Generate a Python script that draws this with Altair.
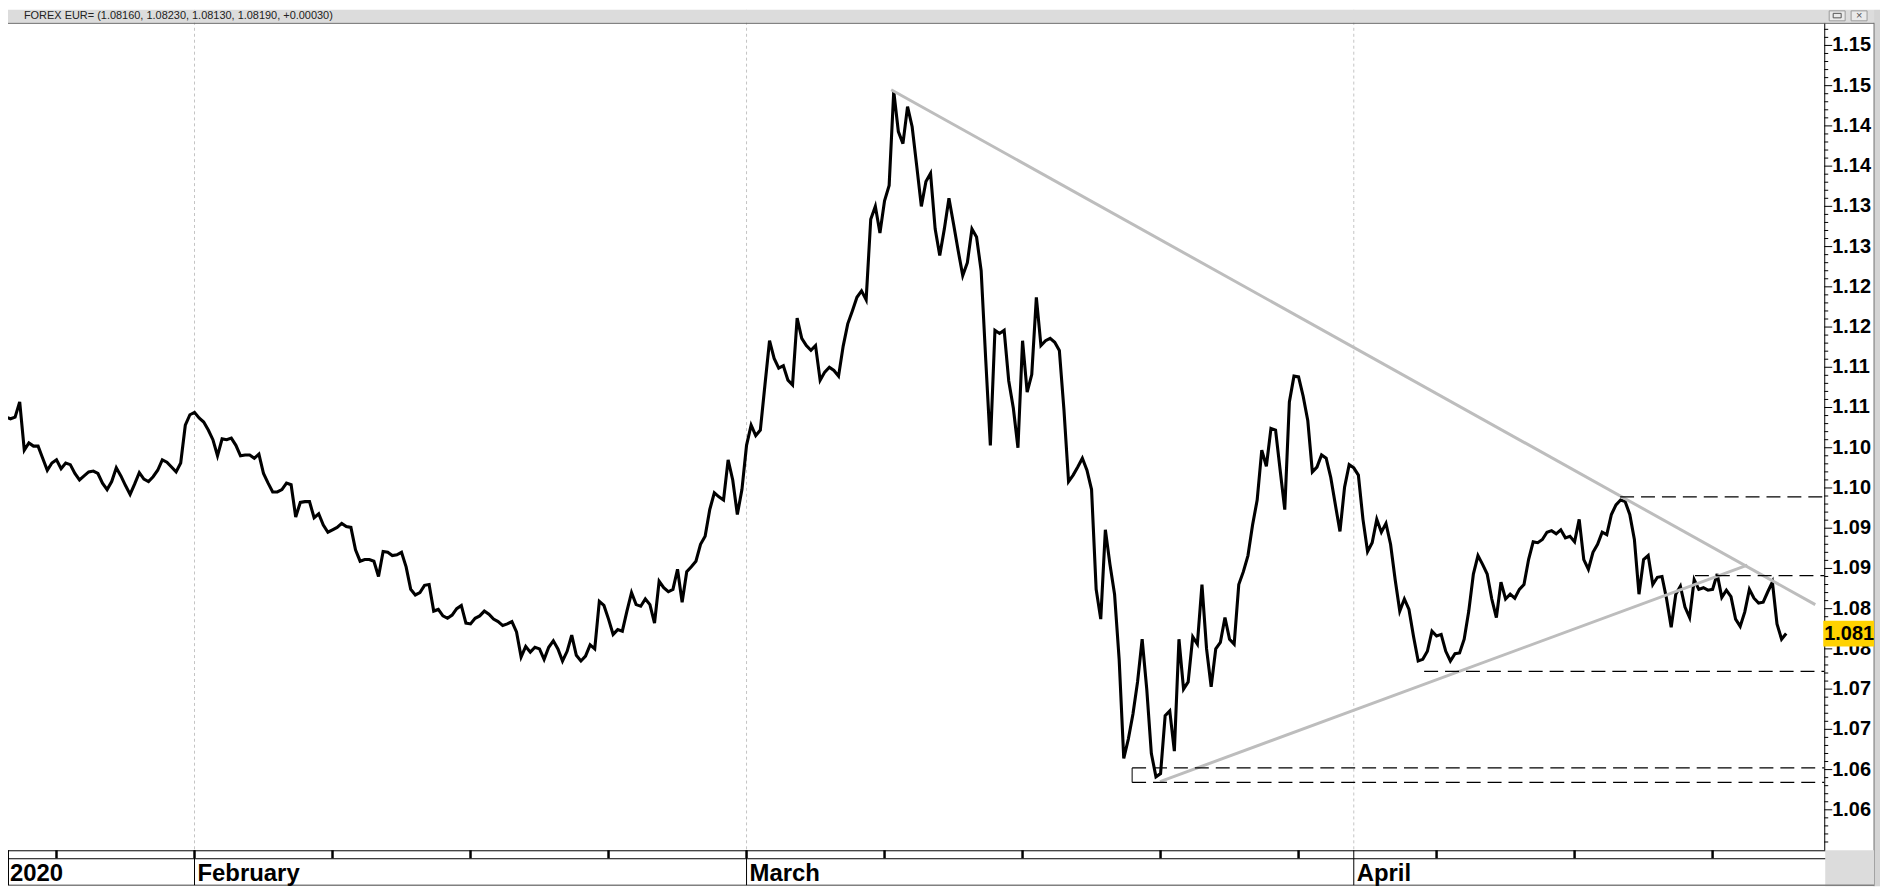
import altair as alt
import pandas as pd
import math

# ---------------- data ----------------
header_text = "FOREX EUR= (1.08160, 1.08230, 1.08130, 1.08190, +0.00030)"

# x is a trading-day index: 0 = Mon 3 Feb 2020, weekends removed; 6 bars (4h) per day
BARS_PER_DAY = 6
week_starts = [-7, -5, 0, 5, 10, 15, 20, 25, 30, 35, 40, 45, 50, 55]

jan23 = [1.1094, 1.1088, 1.1086, 1.1088, 1.1107, 1.1047, 1.1056, 1.1052, 1.1052, 1.1037, 1.1022, 1.1031]
jan27 = [1.1035, 1.1024, 1.1031, 1.1029, 1.1018, 1.1010, 1.1015, 1.1020, 1.1021, 1.1018,
         1.1006, 1.0998, 1.1008, 1.1025, 1.1015, 1.1003, 1.0992, 1.1005, 1.1019, 1.1011,
         1.1008, 1.1014, 1.1022, 1.1035, 1.1032, 1.1026, 1.1020, 1.1031, 1.1078, 1.1091]
feb03 = [1.1094, 1.1087, 1.1082, 1.1072, 1.1060, 1.1040, 1.1061, 1.1060, 1.1062, 1.1053,
         1.1040, 1.1041, 1.1041, 1.1037, 1.1042, 1.1018, 1.1006, 1.0995, 1.0995, 1.0998,
         1.1006, 1.1004, 1.0964, 1.0982, 1.0983, 1.0983, 1.0963, 1.0968, 1.0954, 1.0945]
feb10 = [1.0948, 1.0951, 1.0956, 1.0952, 1.0951, 1.0923, 1.0909, 1.0911, 1.0911, 1.0909,
         1.0890, 1.0921, 1.0920, 1.0916, 1.0917, 1.0920, 1.0902, 1.0874, 1.0867, 1.0870,
         1.0879, 1.0880, 1.0847, 1.0849, 1.0841, 1.0838, 1.0842, 1.0850, 1.0854, 1.0832]
feb17 = [1.0831, 1.0838, 1.0841, 1.0847, 1.0843, 1.0837, 1.0834, 1.0829, 1.0831, 1.0834,
         1.0821, 1.0790, 1.0803, 1.0796, 1.0802, 1.0800, 1.0787, 1.0802, 1.0810, 1.0800,
         1.0785, 1.0797, 1.0817, 1.0792, 1.0785, 1.0791, 1.0805, 1.0800, 1.0859, 1.0854]
feb24 = [1.0837, 1.0818, 1.0824, 1.0822, 1.0847, 1.0870, 1.0855, 1.0853, 1.0862, 1.0855,
         1.0832, 1.0884, 1.0876, 1.0871, 1.0874, 1.0899, 1.0858, 1.0896, 1.0902, 1.0909,
         1.0930, 1.0940, 1.0973, 1.0994, 1.0989, 1.0985, 1.1035, 1.1010, 1.0967, 1.0998]
mar02 = [1.1053, 1.1078, 1.1065, 1.1072, 1.1128, 1.1183, 1.1161, 1.1149, 1.1152, 1.1134,
         1.1128, 1.1211, 1.1186, 1.1177, 1.1171, 1.1177, 1.1134, 1.1144, 1.1150, 1.1146,
         1.1139, 1.1176, 1.1204, 1.1220, 1.1237, 1.1245, 1.1234, 1.1334, 1.1350, 1.1317]
mar09 = [1.1357, 1.1376, 1.1493, 1.1443, 1.1428, 1.1474, 1.1449, 1.1400, 1.1350, 1.1381,
         1.1391, 1.1322, 1.1289, 1.1322, 1.1360, 1.1328, 1.1295, 1.1264, 1.1280, 1.1322,
         1.1312, 1.1270, 1.1159, 1.1053, 1.1196, 1.1192, 1.1196, 1.1133, 1.1099, 1.1050]
mar16 = [1.1183, 1.1119, 1.1141, 1.1237, 1.1177, 1.1183, 1.1186, 1.1181, 1.1171, 1.1097,
         1.1008, 1.1016, 1.1026, 1.1037, 1.1022, 1.0998, 1.0874, 1.0837, 1.0948, 1.0905,
         1.0868, 1.0787, 1.0664, 1.0688, 1.0719, 1.0759, 1.0812, 1.0750, 1.0670, 1.0641]
mar23 = [1.0645, 1.0717, 1.0723, 1.0673, 1.0812, 1.0750, 1.0759, 1.0815, 1.0806, 1.0880,
         1.0800, 1.0753, 1.0800, 1.0808, 1.0839, 1.0812, 1.0806, 1.0880, 1.0896, 1.0916,
         1.0954, 1.0985, 1.1047, 1.1027, 1.1074, 1.1072, 1.1022, 1.0973, 1.1107, 1.1139]
mar30 = [1.1138, 1.1114, 1.1084, 1.1020, 1.1026, 1.1041, 1.1037, 1.1013, 1.0979, 1.0946,
         1.1001, 1.1029, 1.1025, 1.1016, 1.0961, 1.0921, 1.0932, 1.0961, 1.0945, 1.0956,
         1.0930, 1.0886, 1.0847, 1.0862, 1.0849, 1.0815, 1.0785, 1.0787, 1.0797, 1.0822]
apr06 = [1.0816, 1.0818, 1.0797, 1.0785, 1.0794, 1.0795, 1.0812, 1.0847, 1.0893, 1.0916,
         1.0905, 1.0893, 1.0862, 1.0839, 1.0883, 1.0862, 1.0868, 1.0863, 1.0874, 1.0880,
         1.0911, 1.0933, 1.0932, 1.0936, 1.0945, 1.0947, 1.0943, 1.0948, 1.0938, 1.0940]
apr13 = [1.0933, 1.0961, 1.0911, 1.0899, 1.0920, 1.0930, 1.0945, 1.0942, 1.0967, 1.0979,
         1.0985, 1.0983, 1.0967, 1.0936, 1.0868, 1.0911, 1.0916, 1.0880, 1.0889, 1.0890,
         1.0862, 1.0827, 1.0868, 1.0878, 1.0852, 1.0839, 1.0886, 1.0874, 1.0876, 1.0873]
apr20 = [1.0874, 1.0893, 1.0864, 1.0873, 1.0865, 1.0837, 1.0828, 1.0846, 1.0874, 1.0863,
         1.0857, 1.0858, 1.0871, 1.0883, 1.0831, 1.0812, 1.0819]

week_prices = [jan23, jan27, feb03, feb10, feb17, feb24, mar02, mar09,
               mar16, mar23, mar30, apr06, apr13, apr20]

last_price = 1.0819

# axis / calendar labels
week_ticks = [-5, 0, 5, 10, 15, 20, 25, 30, 35, 40, 45, 50, 55]
month_names = ["February", "March", "April"]
month_starts = [0, 20, 42]
year_label = "2020"

# annotations drawn on the chart (trading-day index, price)
trend_t1 = [25.24, 34.98]
trend_p1 = [1.1495, 1.0635]
trend_t2 = [58.72, 56.26]
trend_p2 = [1.0855, 1.0904]

level_prices = [1.0989, 1.0891, 1.0772, 1.0652, 1.0634]
level_starts = [51.65, 54.36, 44.55, 33.97, 33.97]

X_DOMAIN = [-6.757, 59.045]
Y_DOMAIN = [1.05497, 1.15942]

y_major = [round(1.060 + 0.005 * i, 3) for i in range(20)]
y_minor = [round(1.055 + 0.001 * i, 3) for i in range(105) if i % 5 != 0]

# ---------------- tables ----------------
rows = []
for start, vals in zip(week_starts, week_prices):
    for i, v in enumerate(vals):
        rows.append({"t": start + i / BARS_PER_DAY, "price": v})
price_df = pd.DataFrame(rows)

def trunc_label(v, digits):
    f = 10 ** digits
    return f"{math.floor(v * f + 1e-6) / f:.{digits}f}"

trend_df = pd.DataFrame({"t1": trend_t1, "p1": trend_p1, "t2": trend_t2, "p2": trend_p2})
level_df = pd.DataFrame({"t1": level_starts, "t2": [X_DOMAIN[1]] * len(level_prices), "p": level_prices})
conn_df = pd.DataFrame({"t": [level_starts[3]], "p1": [level_prices[3]], "p2": [level_prices[4]]})
week_df = pd.DataFrame({"t": week_ticks})
month_df = pd.DataFrame({"t": month_starts, "name": month_names})
major_df = pd.DataFrame({"p": y_major, "label": [trunc_label(v, 2) for v in y_major]})
minor_df = pd.DataFrame({"p": y_minor})
last_df = pd.DataFrame({"p": [last_price], "label": [trunc_label(last_price, 3)]})
one = pd.DataFrame({"a": [0]})

W, H = 1824, 844

def X(field):
    return alt.X(f"{field}:Q", scale=alt.Scale(domain=X_DOMAIN, nice=False, zero=False), axis=None)

def Y(field):
    return alt.Y(f"{field}:Q", scale=alt.Scale(domain=Y_DOMAIN, nice=False, zero=False), axis=None)

grid = alt.Chart(month_df).mark_rule(color="#c4c4c4", strokeDash=[3, 3], strokeWidth=1).encode(x=X("t"))

line = alt.Chart(price_df).mark_line(color="black", strokeWidth=3.1, clip=True).encode(
    x=X("t"), y=Y("price"))

trends = alt.Chart(trend_df).mark_rule(color="#bdbdbd", strokeWidth=3).encode(
    x=X("t1"), y=Y("p1"), x2="t2", y2="p2")

levels = alt.Chart(level_df).mark_rule(color="black", strokeDash=[14, 7], strokeWidth=1.3).encode(
    x=X("t1"), x2="t2", y=Y("p"))

conn = alt.Chart(conn_df).mark_rule(color="black", strokeWidth=1).encode(x=X("t"), y=Y("p1"), y2="p2")

# right price axis
axis_line = alt.Chart(one).mark_rule(color="black", strokeWidth=1).encode(
    x=alt.value(W + 0.5), y=alt.value(13), y2=alt.value(H))
major_ticks = alt.Chart(major_df).mark_rule(color="black", strokeWidth=1).encode(
    y=Y("p"), x=alt.value(W), x2=alt.value(W + 8))
minor_ticks = alt.Chart(minor_df).mark_rule(color="black", strokeWidth=1).encode(
    y=Y("p"), x=alt.value(W), x2=alt.value(W + 4))
major_labels = alt.Chart(major_df).mark_text(
    align="left", baseline="middle", font="Liberation Sans", fontWeight="bold",
    fontSize=20, color="black").encode(y=Y("p"), x=alt.value(W + 8), text="label:N")

# header bar
header = alt.Chart(one).mark_rect(fill="#dcdcdc").encode(
    x=alt.value(0), x2=alt.value(1874), y=alt.value(0), y2=alt.value(13))
header_line = alt.Chart(one).mark_rule(color="#666666", strokeWidth=1).encode(
    x=alt.value(0), x2=alt.value(1874), y=alt.value(13.5))
header_txt = alt.Chart(one).mark_text(align="left", baseline="middle", font="Liberation Sans",
                                      fontSize=11, color="#222222").encode(
    x=alt.value(16), y=alt.value(6.5), text=alt.value(header_text))
btn1 = alt.Chart(one).mark_rect(fill="#eaeaea", stroke="#9a9a9a", strokeWidth=1).encode(
    x=alt.value(1829), x2=alt.value(1845), y=alt.value(1), y2=alt.value(11))
btn2 = alt.Chart(one).mark_rect(fill="#eaeaea", stroke="#9a9a9a", strokeWidth=1).encode(
    x=alt.value(1851), x2=alt.value(1867), y=alt.value(1), y2=alt.value(11))
btn1_icon = alt.Chart(one).mark_rect(fill="#eaeaea", stroke="#555555", strokeWidth=1).encode(
    x=alt.value(1833), x2=alt.value(1841), y=alt.value(3.5), y2=alt.value(8))
btn2_icon = alt.Chart(one).mark_text(font="Liberation Sans", fontSize=11, color="#555555",
                                     align="center", baseline="middle").encode(
    x=alt.value(1859), y=alt.value(6), text=alt.value("×"))

# right window border and bottom-right panel
right_strip = alt.Chart(one).mark_rect(fill="#d4d4d4").encode(
    x=alt.value(1874), x2=alt.value(1880), y=alt.value(0), y2=alt.value(880))
right_strip_line = alt.Chart(one).mark_rule(color="#707070").encode(
    x=alt.value(1874), y=alt.value(13), y2=alt.value(880))
corner = alt.Chart(one).mark_rect(fill="#dcdcdc").encode(
    x=alt.value(1825), x2=alt.value(1874), y=alt.value(844), y2=alt.value(880))

# bottom calendar band
band_top = alt.Chart(one).mark_rule(color="black").encode(
    x=alt.value(0), x2=alt.value(1825), y=alt.value(844.5))
band_mid = alt.Chart(one).mark_rule(color="black").encode(
    x=alt.value(0), x2=alt.value(1825), y=alt.value(852.5))
band_bottom = alt.Chart(one).mark_rule(color="#808080", strokeWidth=1.5).encode(
    x=alt.value(0), x2=alt.value(1874), y=alt.value(879))
week_marks = alt.Chart(week_df).mark_rule(color="black", strokeWidth=2.5).encode(
    x=X("t"), y=alt.value(844), y2=alt.value(852))
month_marks = alt.Chart(month_df).mark_rule(color="black", strokeWidth=1).encode(
    x=X("t"), y=alt.value(844), y2=alt.value(879))
left_mark = alt.Chart(one).mark_rule(color="black", strokeWidth=1).encode(
    x=alt.value(0.5), y=alt.value(844), y2=alt.value(879))
month_txt = alt.Chart(month_df).mark_text(
    align="left", baseline="alphabetic", dx=3, font="Liberation Sans Narrow, Liberation Sans",
    fontWeight="bold", fontSize=24, color="black").encode(
    x=X("t"), y=alt.value(875), text="name:N")
year_txt = alt.Chart(one).mark_text(
    align="left", baseline="alphabetic", font="Liberation Sans Narrow, Liberation Sans",
    fontWeight="bold", fontSize=24, color="black").encode(
    x=alt.value(2), y=alt.value(875), text=alt.value(year_label))

# last price box (drawn over the axis labels, as in the reference)
box = alt.Chart(last_df).mark_point(
    shape="M-1,-0.51L1,-0.51L1,0.51L-1,0.51Z", size=2601, filled=True,
    fill="#FFD200", stroke=None, opacity=1).encode(x=alt.value(W + 24.5), y=Y("p"))
box_txt = alt.Chart(last_df).mark_text(
    font="Liberation Sans", fontWeight="bold", fontSize=20, color="black",
    align="center", baseline="middle").encode(x=alt.value(W + 25), y=Y("p"), text="label:N")

chart = alt.layer(
    grid, line, trends, levels, conn,
    axis_line, major_ticks, minor_ticks, major_labels,
    header, header_line, header_txt, btn1, btn2, btn1_icon, btn2_icon,
    right_strip, right_strip_line, corner,
    band_top, band_mid, band_bottom, week_marks, month_marks, left_mark, month_txt, year_txt,
    box, box_txt,
).properties(
    width=W, height=H,
    autosize=alt.AutoSizeParams(type="none"),
    padding={"left": 0, "top": 0, "right": 56, "bottom": 36},
    background="white",
).configure_view(stroke=None)

chart.save("out.html", embed_options={"renderer": "svg", "actions": False})
